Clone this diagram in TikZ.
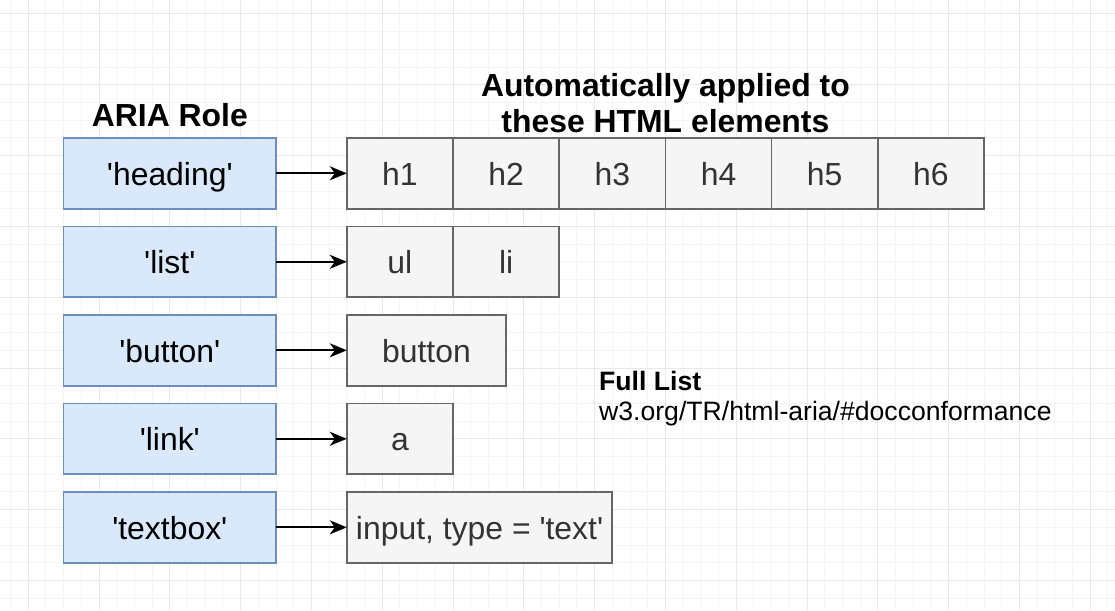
\documentclass[tikz,border=0pt]{standalone}
\usepackage{fontspec}
\setmainfont{Liberation Sans}
\usetikzlibrary{arrows.meta,positioning}
\definecolor{rolefill}{HTML}{DAE8FC}
\definecolor{roledrk}{HTML}{6C8EBF}
\definecolor{elemfill}{HTML}{F5F5F5}
\definecolor{elemdrk}{HTML}{666666}
\definecolor{elemtxt}{HTML}{333333}
\definecolor{gridlt}{HTML}{F4F4F4}
\definecolor{griddrk}{HTML}{E8E8E8}
\newcommand{\qt}{\textquotesingle}

\begin{document}
\begin{tikzpicture}[
		role/.style={rectangle, draw=roledrk, fill=rolefill, line width=1.7pt, minimum width=212.4pt, minimum height=70.8pt, inner sep=0pt, outer sep=0pt, text height=30pt, text depth=6pt, font=\fontsize{31.9}{36}\selectfont},
		elem/.style={rectangle, draw=elemdrk, fill=elemfill, text=elemtxt, line width=1.7pt, minimum width=106.2pt, minimum height=70.8pt, inner sep=0pt, outer sep=0pt, text height=30pt, text depth=6pt, font=\fontsize{31.9}{36}\selectfont},
		hdr/.style={inner sep=0pt, align=center, font=\fontsize{31.9}{36}\bfseries\selectfont},
		conn/.style={-{Stealth[length=17pt, width=14pt, inset=5pt]}, line width=1.7pt}]
		\useasboundingbox (0,0) rectangle (1115pt,-610pt);
		\fill[white] (0,0) rectangle (1115pt,-610pt);
		% grid
		\draw[gridlt, line width=1pt, step=17.7pt, shift={(10.5pt,-14pt)}] (-10.5pt,-596pt) grid (1104.5pt,14pt);
		\draw[griddrk, line width=1pt, step=70.8pt, shift={(28.2pt,-14pt)}] (-28.2pt,-596pt) grid (1086.8pt,14pt);
		
		\node[role] (1) at (169.8pt,-173.3pt) {\qt heading\qt};
		\node[role, below=17.7pt of 1] (2) {\qt list\qt};
		\node[role, below=17.7pt of 2] (3) {\qt button\qt};
		\node[role, below=17.7pt of 3] (4) {\qt link\qt};
		\node[role, below=17.7pt of 4] (5) {\qt textbox\qt};
		\node[hdr, above=11pt of 1] (1c) {ARIA Role};
		
		\node[elem, right=70.8pt of 1] (11) {h1};
		\node[elem, right=0pt of 11] (12) {h2};
		\node[elem, right=0pt of 12] (13) {h3};
		\node[elem, right=0pt of 13] (14) {h4};
		\node[elem, right=0pt of 14] (15) {h5};
		\node[elem, right=0pt of 15] (16) {h6};
		\node[hdr, above=5pt of 13.north east] (11c) {Automatically applied to\\these HTML elements};
		
		\node[elem, right=70.8pt of 2] (21) {ul};
		\node[elem, right=0pt of 21] (22) {li};
		
		\node[elem, minimum width=159.3pt, right=70.8pt of 3] (31) {button};
		\node[elem, right=70.8pt of 4] (41) {a};
		\node[elem, minimum width=265.5pt, right=70.8pt of 5] (51) {input, type = \qt text\qt};
		
		\node[inner sep=0pt, anchor=base west, font=\fontsize{26.6}{31}\bfseries\selectfont] (fl) at (599pt,-390pt) {Full List};
		\node[inner sep=0pt, anchor=base west, font=\fontsize{26.6}{31}\selectfont] (url) at ([yshift=-30pt]fl.base west) {w3.org/TR/html-aria/\#docconformance};
		
		\draw[conn] (1) -- (11);
		\draw[conn] (2) -- (21);
		\draw[conn] (3) -- (31);
		\draw[conn] (4) -- (41);
		\draw[conn] (5) -- (51);
	\end{tikzpicture}
\end{document}
